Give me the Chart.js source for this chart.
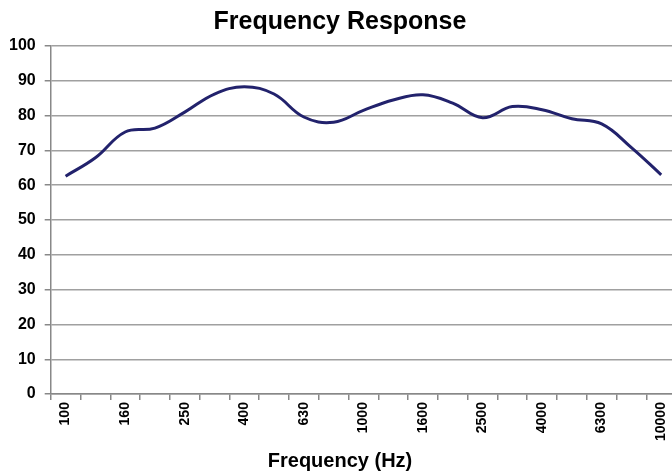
<!DOCTYPE html>
<html>
<head>
<meta charset="utf-8">
<script src="https://cdn.jsdelivr.net/npm/chart.js@4"></script>
<style>
html,body{margin:0;padding:0;background:#fff;overflow:hidden;}
#wrap{width:680px;height:473px;position:relative;}
</style>
</head>
<body>
<div id="wrap"><canvas id="c"></canvas></div>
<script>
const frequencies = ["100","125","160","200","250","315","400","500","630","800","1000","1250","1600","2000","2500","3150","4000","5000","6300","8000","10000"];
const response = [62.6, 67.9, 75.3, 76.4, 81.0, 86.2, 88.3, 86.2, 79.6, 78.1, 81.5, 84.5, 86.0, 83.6, 79.4, 82.6, 81.7, 79.1, 77.6, 70.8, 63.0];
const yTicks = {min: 0, max: 100, step: 10};
const titleText = "Frequency Response";
const xTitleText = "Frequency (Hz)";

const FONT = "'Liberation Sans', Arial, sans-serif";
new Chart(document.getElementById('c'), {
  type: 'line',
  data: {
    labels: frequencies,
    datasets: [{
      data: response,
      borderColor: '#22226c',
      borderWidth: 3,
      pointRadius: 0,
      tension: 0.4,
      fill: false
    }]
  },
  options: {
    responsive: true,
    maintainAspectRatio: false,
    animation: false,
    layout: {padding: {left: 0, right: 0, top: 0, bottom: 0}},
    plugins: {
      legend: {display: false},
      tooltip: {enabled: false},
      title: {
        display: true,
        text: titleText,
        color: '#000',
        font: {family: FONT, size: 25, weight: 'bold'},
        padding: {top: 7, bottom: 9}
      },
      subtitle: {
        display: true,
        position: 'bottom',
        text: xTitleText,
        color: '#000',
        font: {family: FONT, size: 20, weight: 'bold'},
        padding: {top: 6, bottom: 0}
      }
    },
    scales: {
      y: {
        min: yTicks.min, max: yTicks.max,
        ticks: {stepSize: yTicks.step, color: '#000', font: {family: FONT, size: 16, weight: 'bold'}, padding: 9},
        grid: {color: '#a0a0a0', lineWidth: 1.5, tickLength: 6, tickColor: '#888'},
        border: {color: '#888', width: 1.5}
      },
      x: {
        offset: true,
        ticks: {
          autoSkip: false, minRotation: 90, maxRotation: 90,
          color: '#000', font: {family: FONT, size: 14, weight: 'bold'}, padding: 2,
          callback: function(v, i) { return i % 2 === 0 ? frequencies[i] : ''; }
        },
        grid: {offset: true, drawOnChartArea: false, tickLength: 6, color: '#888', lineWidth: 1.5},
        border: {color: '#888', width: 1.5}
      }
    }
  }
});
</script>
</body>
</html>
